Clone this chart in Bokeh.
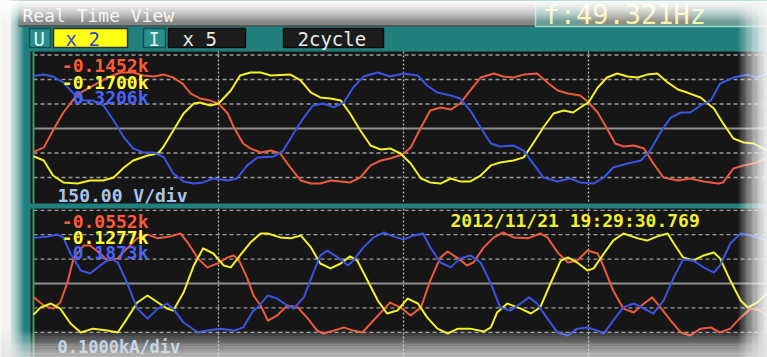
import numpy as np
from bokeh.plotting import figure
from bokeh.models import Range1d
from bokeh.core.properties import value
from bokeh.embed import file_html
from bokeh.resources import INLINE

# ---------------- waveform samples (electrical degrees, two cycles) ----------------
# Voltage, phase 1 (red)
u1_deg = [0, 10, 19, 29, 38, 46, 58, 72, 85, 97, 107, 117, 127, 136, 145, 153, 162, 172, 180, 189,
          195, 204, 211, 221, 231, 240, 250, 260, 270, 279, 289, 299, 308, 318, 328, 338, 347, 359, 367, 377,
          386, 396, 406, 415, 425, 435, 448, 457, 467, 477, 490, 500, 510, 520, 532, 540, 549, 558, 566, 574,
          584, 594, 603, 613, 627, 639, 652, 666, 671, 681, 691, 704, 714]
u1_v = [-145, -116, -12, 98, 171, 220, 263, 312, 343, 343, 324, 318, 330, 312, 275, 214, 184, 171, 153, 92,
        6, -92, -122, -147, -135, -153, -239, -318, -337, -337, -318, -324, -330, -300, -226, -196, -184, -159, -116, 6,
        110, 129, 116, 153, 233, 312, 337, 318, 312, 330, 337, 282, 233, 214, 202, 159, 98, 0, -92, -110,
        -104, -122, -214, -300, -318, -306, -324, -337, -330, -245, -226, -208, -177]

# Voltage, phase 2 (yellow)
u2_deg = [0, 10, 19, 29, 43, 55, 68, 78, 88, 97, 111, 121, 126, 136, 146, 156, 162, 172, 180, 192,
          201, 211, 221, 231, 250, 260, 270, 279, 289, 299, 308, 318, 328, 338, 347, 357, 367, 377, 386, 396,
          406, 415, 425, 435, 445, 454, 467, 477, 486, 496, 506, 516, 525, 535, 540, 549, 558, 568, 578, 588,
          597, 607, 617, 627, 636, 649, 662, 671, 681, 691, 701, 714]
u2_v = [-170, -196, -288, -330, -337, -318, -318, -300, -239, -196, -165, -153, -116, -12, 92, 153, 159, 141, 153, 233,
        324, 343, 343, 324, 330, 294, 220, 190, 184, 171, 92, -12, -104, -129, -122, -153, -214, -306, -330, -337,
        -306, -324, -324, -288, -226, -208, -196, -177, -92, 6, 92, 110, 98, 141, 159, 251, 312, 337, 318, 312,
        330, 337, 282, 239, 220, 190, 122, 31, -61, -86, -92, -135]

# Voltage, phase 3 (blue)
u3_deg = [0, 10, 19, 29, 39, 49, 58, 68, 78, 88, 97, 107, 117, 127, 136, 146, 156, 165, 175, 189,
          198, 208, 218, 234, 243, 253, 263, 272, 282, 292, 302, 311, 321, 335, 347, 360, 374, 383, 393, 406,
          415, 425, 435, 445, 454, 467, 477, 486, 496, 510, 522, 532, 545, 555, 564, 578, 591, 600, 610, 620,
          630, 639, 649, 659, 668, 681, 695, 704, 714]
u3_v = [321, 330, 318, 282, 214, 171, 171, 141, 49, -55, -122, -147, -147, -177, -275, -324, -337, -330, -306, -318,
        -306, -226, -177, -171, -135, -31, 67, 141, 153, 129, 159, 251, 318, 343, 318, 337, 324, 263, 220, 202,
        184, 110, 6, -92, -110, -104, -135, -214, -300, -324, -306, -330, -337, -300, -239, -214, -196, -135, -24, 67,
        98, 98, 141, 171, 275, 312, 330, 312, 337]

# Current, phase 1 (red)
i1_deg = [0, 10, 19, 26, 33, 39, 49, 55, 65, 72, 82, 91, 101, 111, 121, 133, 143, 150, 160, 169,
          179, 189, 195, 201, 208, 214, 221, 228, 237, 247, 257, 267, 276, 282, 292, 302, 311, 320, 328, 338,
          347, 357, 367, 377, 386, 396, 403, 413, 422, 428, 438, 448, 457, 467, 481, 493, 500, 510, 520, 529,
          539, 549, 555, 564, 574, 584, 594, 602, 610, 620, 630, 639, 649, 659, 668, 678, 688, 698, 707, 714]
i1_a = [-55, -90, -103, -78, 4, 103, 156, 156, 123, 94, 103, 144, 185, 201, 185, 193, 205, 168, 103, 66,
        82, 107, 115, 86, 21, -49, -90, -152, -131, -90, -98, -144, -193, -205, -193, -180, -193, -201, -164, -119,
        -78, -98, -131, -98, 12, 107, 131, 103, 74, 86, 148, 189, 209, 189, 185, 205, 189, 127, 86, 94,
        135, 123, 66, -29, -103, -119, -82, -57, -98, -152, -201, -213, -185, -180, -201, -185, -139, -103, -111, -131]

# Current, phase 2 (yellow)
i2_deg = [0, 7, 17, 26, 36, 46, 58, 72, 82, 91, 101, 111, 121, 130, 136, 146, 156, 165, 175, 185,
          192, 201, 211, 221, 228, 240, 250, 260, 270, 279, 289, 299, 308, 315, 325, 335, 344, 354, 364, 374,
          383, 393, 403, 413, 425, 438, 445, 451, 461, 474, 484, 493, 503, 513, 520, 529, 539, 545, 555, 564,
          574, 588, 597, 607, 617, 623, 632, 642, 652, 662, 668, 678, 688, 695, 704, 714]
i2_a = [-128, -98, -82, -103, -164, -201, -185, -193, -201, -144, -78, -49, -78, -103, -111, -37, 74, 144, 123, 74,
        66, 115, 168, 205, 205, 189, 185, 197, 148, 82, 62, 82, 111, 94, 12, -70, -123, -111, -62, -82,
        -139, -185, -205, -185, -185, -197, -180, -119, -82, -103, -123, -98, 0, 94, 107, 86, 53, 62, 123, 176,
        205, 185, 176, 193, 205, 164, 107, 94, 115, 127, 103, 12, -70, -98, -78, -41]

# Current, phase 3 (blue)
i3_deg = [0, 14, 23, 29, 36, 46, 55, 65, 75, 82, 91, 101, 111, 121, 130, 136, 146, 160, 169, 182,
          195, 204, 214, 218, 228, 237, 247, 253, 263, 272, 279, 286, 296, 306, 311, 321, 331, 341, 350, 360,
          370, 379, 386, 396, 406, 415, 425, 435, 445, 454, 464, 474, 482, 490, 500, 510, 520, 529, 539, 549,
          555, 564, 574, 584, 594, 603, 613, 623, 632, 642, 652, 662, 668, 678, 688, 698, 707, 714]
i3_a = [187, 193, 201, 189, 123, 53, 41, 74, 103, 86, 4, -103, -144, -103, -82, -103, -160, -201, -193, -185,
        -193, -180, -111, -98, -49, -62, -90, -103, -57, 41, 115, 135, 107, 74, 94, 148, 189, 209, 193, 180,
        197, 205, 148, 86, 66, 103, 115, 86, 0, -98, -111, -82, -57, -82, -144, -201, -213, -185, -180, -193,
        -205, -152, -98, -82, -103, -123, -70, 25, 98, 94, 66, 45, 74, 164, 205, 197, 185, 176]

# readouts and captions
u_readouts = ["-0.1452k", "-0.1700k", "0.3206k"]
i_readouts = ["-0.0552k", "-0.1277k", "0.1873k"]
u_scale_text = "150.00 V/div"
i_scale_text = "0.1000kA/div"
timestamp_text = "2012/11/21 19:29:30.769"
freq_text = "f:49.321Hz"
title_text = "Real Time View"
V_PER_DIV = 150
A_PER_DIV = 100

# ---------------- screen layout ----------------
W, H = 767, 357
X0 = 33                      # screen x of 0 deg
PX_PER_DEG = 740 / 720       # two cycles across 740 px
U_TOP, U_BOT, U_MID, U_DIV = 51, 203, 128, 24.5
I_TOP, I_BOT, I_MID, I_DIV = 208, 357, 283, 24.4

TEAL = "#21807e"
PANEL = "#161616"
RED, YEL, BLU = "#ee5a3c", "#f2f224", "#3a54e6"
MONO = value("DejaVu Sans Mono")

p = figure(width=W, height=H, x_range=Range1d(0, W), y_range=Range1d(H, 0),
           output_backend="svg", toolbar_location=None,
           x_axis_location=None, y_axis_location=None, min_border=0)
p.outline_line_color = None
p.background_fill_color = "#f3f3f3"
p.border_fill_color = "#f3f3f3"
p.xgrid.visible = False
p.ygrid.visible = False

p.extra_x_ranges = {"deg": Range1d(-X0 / PX_PER_DEG, (W - X0) / PX_PER_DEG)}
p.extra_y_ranges = {
    "volt": Range1d((U_MID - H) / U_DIV * V_PER_DIV, U_MID / U_DIV * V_PER_DIV),
    "amp": Range1d((I_MID - H) / I_DIV * A_PER_DIV, I_MID / I_DIV * A_PER_DIV),
}
DEG_END = (W - X0) / PX_PER_DEG


def box(l, r, t, b, fill, line=None, lw=1):
    p.quad(left=l, right=r, top=t, bottom=b, fill_color=fill,
           line_color=line, line_width=lw)


def hfade(x0, x1, y0, y1, color, a0, a1, n=30):
    e = np.linspace(x0, x1, n + 1)
    p.quad(left=e[:-1], right=e[1:] + 0.6, top=y0, bottom=y1, fill_color=color,
           fill_alpha=np.linspace(a0, a1, n), line_color=None)


def vfade(y0, y1, x0, x1, color, a0, a1, n=30):
    e = np.linspace(y0, y1, n + 1)
    p.quad(left=x0, right=x1, top=e[:-1], bottom=e[1:] + 0.6, fill_color=color,
           fill_alpha=np.linspace(a0, a1, n), line_color=None)


def txt(x, y, s, color, size, bold=False, align="left"):
    p.text(x=[x], y=[y], text=[s], text_color=color, text_font=MONO,
           text_font_size=size, text_font_style="bold" if bold else "normal",
           text_align=align, text_baseline="middle")


# ---------------- frame and header ----------------
box(10, W, 0, H, TEAL)
hfade(6, 24, 0, H, "#f3f3f3", 0.95, 0.0, n=18)

# title bar
box(18, 535, 0, 25, "#868686")
p.segment(x0=18, x1=535, y0=25.5, y1=25.5, line_color="#4d4d4d", line_width=1.5)
txt(22, 15, title_text, "#f2f2f2", "18px")

# frequency display
box(535, W, 0, 26, "#6a9a94", line="#9fd6d0", lw=1.5)
box(580, 692, 3, 24, "#8e8e84")
txt(543, 14, freq_text, "#f4f4a8", "27px")

# range selectors
box(29, 50, 28, 47, "#2a8e8b", line="#0f4f4e", lw=1.5)
txt(33, 38, "U", "#d8f4f4", "19px")
box(53, 127, 28, 47, "#ffff14", line="#303030", lw=1.5)
txt(65, 38, "x 2", "#3048c8", "19px")
box(143, 165, 28, 47, "#2a8e8b", line="#0f4f4e", lw=1.5)
txt(148, 38, "I", "#d8f4f4", "19px")
box(168, 245, 28, 47, "#1c1c1c", line="#0d0d0d", lw=1.5)
txt(182, 38, "x 5", "#eaeaea", "19px")
box(283, 383, 28, 47, "#1c1c1c", line="#0d0d0d", lw=1.5)
txt(297, 38, "2cycle", "#eaeaea", "19px")

# ---------------- plot panels ----------------
box(30, W, U_TOP, U_BOT, PANEL)
box(30, W, I_TOP, I_BOT + 2, PANEL)


def panel_grid(yname, per_div, top_px, bot_px):
    levels = [3 * per_div, 2 * per_div, per_div, -per_div, -2 * per_div]
    p.segment(x0=0, x1=DEG_END, y0=levels, y1=levels, x_range_name="deg",
              y_range_name=yname, line_color="#9c9c9c", line_dash="4 3", line_width=1.3)
    p.segment(x0=0, x1=DEG_END, y0=0, y1=0, x_range_name="deg", y_range_name=yname,
              line_color="#8e8e8e", line_width=2)
    p.segment(x0=[180, 360, 540], x1=[180, 360, 540], y0=top_px, y1=bot_px,
              x_range_name="deg", line_color="#b4b4b4", line_dash="2 2", line_width=1.3)
    p.segment(x0=0, x1=0, y0=top_px, y1=bot_px, x_range_name="deg",
              line_color="#3e9a62", line_width=2)


panel_grid("volt", V_PER_DIV, U_TOP, U_BOT)
panel_grid("amp", A_PER_DIV, I_TOP, I_BOT + 2)

for xs, ys, c in [(u1_deg, u1_v, RED), (u2_deg, u2_v, YEL), (u3_deg, u3_v, BLU)]:
    p.line(xs, ys, x_range_name="deg", y_range_name="volt", line_color=c,
           line_width=2, line_join="round")
for xs, ys, c in [(i1_deg, i1_a, RED), (i2_deg, i2_a, YEL), (i3_deg, i3_a, BLU)]:
    p.line(xs, ys, x_range_name="deg", y_range_name="amp", line_color=c,
           line_width=2, line_join="round")

# readouts
for s, y, c in zip(u_readouts, [65, 82, 97], ["#ff5a36", "#ffff33", "#4a64ff"]):
    txt(148, y, s, c, "18px", bold=True, align="right")
for s, y, c in zip(i_readouts, [221, 237, 252], ["#ff5a36", "#ffff33", "#4a64ff"]):
    txt(148, y, s, c, "18px", bold=True, align="right")
txt(57, 195, u_scale_text, "#a8c4e8", "18px", bold=True)
txt(57, 346, i_scale_text, "#a8c4e8", "17px", bold=True)
txt(450, 220, timestamp_text, "#f0f030", "18px", bold=True)

# ---------------- glare on the screen edges ----------------
vfade(0, 22, 0, W, "#ffffff", 0.95, 0.0, n=22)
hfade(736, W, 0, H, "#f5f5f5", 0.0, 0.95, n=26)
vfade(328, H, 0, W, "#e4e4e4", 0.0, 0.7, n=26)

open("out.html", "w").write(file_html(p, INLINE))
